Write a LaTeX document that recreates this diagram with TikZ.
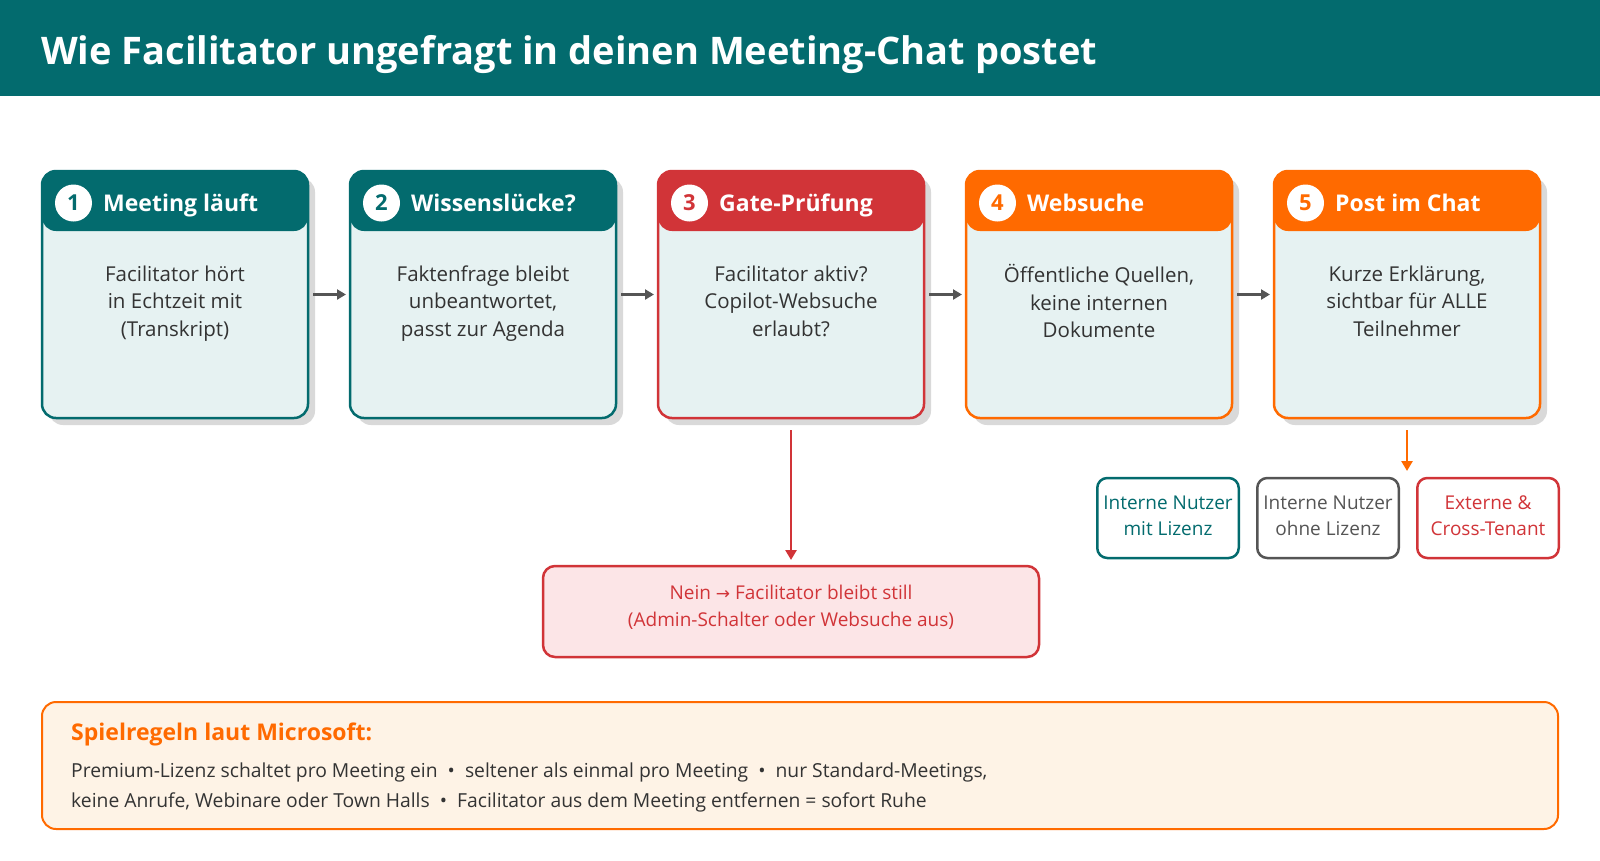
\documentclass[tikz,border=0pt]{standalone}
\usepackage{fontspec}
\setmainfont{Open Sans}
\newfontfamily\arrowfont{DejaVu Sans}
\usetikzlibrary{arrows.meta,positioning,calc,shadows}
\definecolor{FacTeal}{HTML}{036B6E}
\definecolor{FacBody}{HTML}{E6F2F2}
\definecolor{FacRed}{HTML}{D13438}
\definecolor{FacRedLight}{HTML}{FCE5E7}
\definecolor{FacOrange}{HTML}{FF6A00}
\definecolor{FacCream}{HTML}{FEF3E6}
\definecolor{FacGray}{HTML}{555555}
\definecolor{FacShadow}{HTML}{D9D9D9}
\definecolor{FacText}{HTML}{333333}

\begin{document}
\begin{tikzpicture}[x=1pt,y=-1pt,
    stepbox/.style={draw=#1,line width=2.5pt,rounded corners=14pt,fill=FacBody,
      minimum width=266pt,minimum height=247pt,inner sep=0pt,outer sep=0pt,
      drop shadow={shadow xshift=7pt,shadow yshift=-7pt,fill=FacShadow,opacity=1},
      path picture={\fill[#1] (path picture bounding box.north west) rectangle
        ([yshift=-60pt]path picture bounding box.north east);}},
    numdot/.style={circle,fill=white,minimum size=37pt,inner sep=0pt,outer sep=0pt,
      text=#1,font=\bfseries\fontsize{22}{22}\selectfont},
    steptitle/.style={text=white,inner sep=0pt,text height=16.5pt,text depth=0pt,
      font=\bfseries\fontsize{23}{23}\selectfont},
    stepbody/.style={align=center,text=FacText,font=\fontsize{20.5}{27.5}\selectfont,
      execute at begin node=\strut,execute at end node=\strut},
    flow/.style={draw=FacGray,line width=2.5pt,shorten <=5pt,shorten >=4pt,
      -{Triangle[length=9pt,width=10pt]}},
    audbox/.style={draw=#1,text=#1,line width=2.5pt,rounded corners=10pt,fill=white,
      minimum width=141.5pt,minimum height=80pt,outer sep=0pt,align=center,
      font=\fontsize{19}{26}\selectfont},
    ruletext/.style={anchor=base west,inner sep=0pt,text=FacText,font=\fontsize{19.3}{19.3}\selectfont}]
  \useasboundingbox (0,0) rectangle (1600,860);
  \fill[FacTeal] (0,0) rectangle (1600,96);
  \node[anchor=base west,text=white,inner sep=0pt,font=\bfseries\fontsize{38}{38}\selectfont] (title) at (41,64)
    {Wie Facilitator ungefragt in deinen Meeting-Chat postet};

  \node[stepbox=FacTeal] (s1) at (175,294.5) {};
  \node[stepbox=FacTeal,right=42pt of s1] (s2) {};
  \node[stepbox=FacRed,right=42pt of s2] (s3) {};
  \node[stepbox=FacOrange,right=42pt of s3] (s4) {};
  \node[stepbox=FacOrange,right=42pt of s4] (s5) {};

  \node[numdot=FacTeal] (n1) at ([xshift=31.5pt,yshift=-32pt]s1.north west) {1};
  \node[numdot=FacTeal] (n2) at ([xshift=31.5pt,yshift=-32pt]s2.north west) {2};
  \node[numdot=FacRed] (n3) at ([xshift=31.5pt,yshift=-32pt]s3.north west) {3};
  \node[numdot=FacOrange] (n4) at ([xshift=31.5pt,yshift=-32pt]s4.north west) {4};
  \node[numdot=FacOrange] (n5) at ([xshift=31.5pt,yshift=-32pt]s5.north west) {5};
  \node[steptitle,right=11pt of n1] (t1) {Meeting läuft};
  \node[steptitle,right=11pt of n2] (t2) {Wissenslücke?};
  \node[steptitle,right=11pt of n3] (t3) {Gate-Prüfung};
  \node[steptitle,right=11pt of n4] (t4) {Websuche};
  \node[steptitle,right=11pt of n5] (t5) {Post im Chat};

  \node[stepbody] (b1) at ([yshift=-10.5pt]s1.center) {Facilitator hört\\in Echtzeit mit\\(Transkript)};
  \node[stepbody] (b2) at ([yshift=-10.5pt]s2.center) {Faktenfrage bleibt\\unbeantwortet,\\passt zur Agenda};
  \node[stepbody] (b3) at ([yshift=-10.5pt]s3.center) {Facilitator aktiv?\\Copilot-Websuche\\erlaubt?};
  \node[stepbody] (b4) at ([yshift=-10.5pt]s4.center) {Öffentliche Quellen,\\keine internen\\Dokumente};
  \node[stepbody] (b5) at ([yshift=-10.5pt]s5.center) {Kurze Erklärung,\\sichtbar für ALLE\\Teilnehmer};

  \draw[flow] (s1) -- (s2);
  \draw[flow] (s2) -- (s3);
  \draw[flow] (s3) -- (s4);
  \draw[flow] (s4) -- (s5);

  \node[draw=FacRed,text=FacRed,fill=FacRedLight,line width=2.5pt,rounded corners=12pt,
    minimum width=496pt,minimum height=91pt,outer sep=0pt,align=center,
    font=\fontsize{19}{26.5}\selectfont,below=148pt of s3] (nein)
    {Nein {\arrowfont\fontsize{17}{17}\selectfont →} Facilitator bleibt still\\(Admin-Schalter oder Websuche aus)\\[-15pt]};
  \draw[draw=FacRed,line width=2.5pt,shorten <=12pt,shorten >=6pt,
    -{Triangle[length=10pt,width=11pt]}] (s3) -- (nein);

  \node[audbox=FacTeal] (a1) at (1168,518) {Interne Nutzer\\mit Lizenz\\[-21pt]};
  \node[audbox=FacGray,right=18.5pt of a1] (a2) {Interne Nutzer\\ohne Lizenz\\[-21pt]};
  \node[audbox=FacRed,right=18.5pt of a2] (a3) {Externe \&\\Cross-Tenant\\[-21pt]};
  \coordinate (aud) at (s5.south |- a1.north);
  \draw[draw=FacOrange,line width=2.5pt,shorten <=12pt,shorten >=7pt,
    -{Triangle[length=10pt,width=11pt]}] (s5.south) -- (aud);

  \node[draw=FacOrange,fill=FacCream,line width=2pt,rounded corners=14pt,
    minimum width=1516pt,minimum height=127pt,outer sep=0pt] (rules) at (800,765.5) {};
  \node[anchor=base west,inner sep=0pt,text=FacOrange,font=\bfseries\fontsize{23}{23}\selectfont] (rt)
    at ([xshift=29pt,yshift=-38pt]rules.north west) {Spielregeln laut Microsoft:};
  \node[ruletext] (r1) at ([xshift=29pt,yshift=-75pt]rules.north west)
    {Premium-Lizenz schaltet pro Meeting ein~~•~~seltener als einmal pro Meeting~~•~~nur Standard-Meetings,};
  \node[ruletext] (r2) at ([xshift=29pt,yshift=-105pt]rules.north west)
    {keine Anrufe, Webinare oder Town Halls~~•~~Facilitator aus dem Meeting entfernen = sofort Ruhe};
\end{tikzpicture}
\end{document}
